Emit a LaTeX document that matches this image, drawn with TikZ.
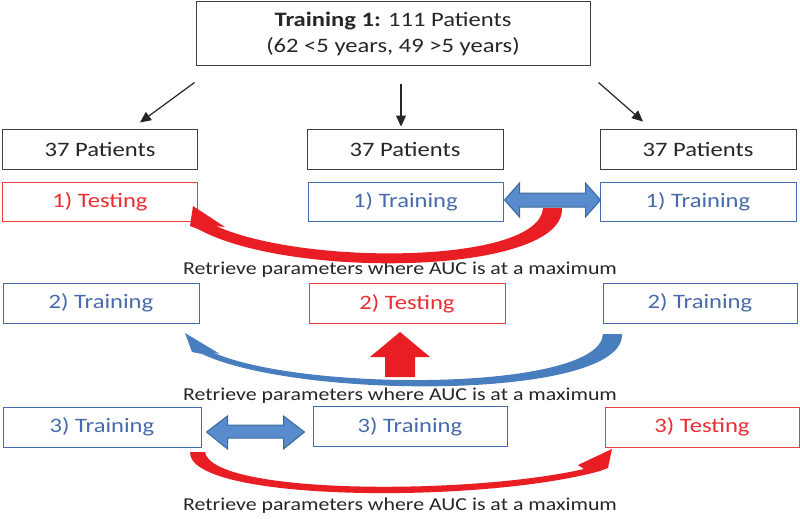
\documentclass[tikz,border=0pt]{standalone}
\usepackage{fontspec}
\setmainfont{Carlito}[FakeStretch=1.2]
\usetikzlibrary{arrows.meta,calc}
\definecolor{boxgray}{RGB}{64,64,64}
\definecolor{txtgray}{RGB}{38,38,38}
\definecolor{bblue}{RGB}{68,108,176}
\definecolor{tblue}{RGB}{70,106,170}
\definecolor{bred}{RGB}{236,60,66}
\definecolor{tred}{RGB}{234,45,50}
\definecolor{afill}{RGB}{88,140,204}
\definecolor{aedge}{RGB}{60,105,155}
\definecolor{cred}{RGB}{232,30,36}
\definecolor{cblue}{RGB}{72,125,190}
\begin{document}
\begin{tikzpicture}[x=1pt,y=-1pt,
 box/.style={draw, line width=1pt, minimum width=195pt, minimum height=40pt, inner sep=0pt, font=\fontsize{20.5}{24}\selectfont},
 graybox/.style={box, draw=boxgray, text=txtgray},
 bluebox/.style={box, draw=bblue, text=tblue},
 redbox/.style={box, draw=bred, text=tred},
 note/.style={inner sep=0pt, text=txtgray, font=\fontsize{18.2}{22}\selectfont},
 thinarrow/.style={draw=txtgray, line width=1.2pt, -{Triangle[length=11pt,width=10pt]}},
 dblarrow/.style={fill=afill, draw=aedge, line width=1pt, line join=miter},
]
\useasboundingbox (0,0) rectangle (800,519);

% boxes
\node[graybox, minimum width=394pt, minimum height=64pt, align=center,
      font=\fontsize{20.5}{26}\selectfont] (top) at (393,34)
      {\textbf{Training 1:} 111 Patients\\(62 <5 years, 49 >5 years)};
\node[graybox] (p1) at (100,149) {37 Patients};
\node[graybox, minimum width=196pt] (p2) at (405,149) {37 Patients};
\node[graybox, minimum width=196pt] (p3) at (698,149) {37 Patients};

\node[redbox, minimum height=39pt] (a1) at (100,201.5) {1) Testing};
\node[bluebox, minimum height=39pt] (b1) at (405.5,201.5) {1) Training};
\node[bluebox, minimum height=39pt, minimum width=196pt] (c1) at (698,201.5) {1) Training};

\node[bluebox, minimum width=196pt] (a2) at (101,303) {2) Training};
\node[redbox, minimum width=196pt] (b2) at (407,303.5) {2) Testing};
\node[bluebox, minimum width=194pt] (c2) at (700,303) {2) Training};

\node[bluebox, minimum width=198pt] (a3) at (102,427) {3) Training};
\node[bluebox, minimum width=194pt] (b3) at (410,426.5) {3) Training};
\node[redbox, minimum width=194pt] (c3) at (702,427) {3) Testing};

\node[note] (n1) at (400,270) {Retrieve parameters where AUC is at a maximum};
\node[note] (n2) at (400,396) {Retrieve parameters where AUC is at a maximum};
\node[note] (n3) at (400,506) {Retrieve parameters where AUC is at a maximum};

% thin arrows
\draw[thinarrow] ($(top.south west)+(-1,16)$) -- ($(p1.north)+(40,-6)$);
\draw[thinarrow] ($(top.south)+(8,17)$) -- ($(p2.north)+(-4,-2)$);
\draw[thinarrow] ($(top.south east)+(8,16)$) -- ($(p3.north)+(-55,-7)$);

% curved arrow row 1 (red)
\fill[cred] (543,208) .. controls (540,264) and (305,266) .. (216,226)
  -- (225,227) -- (193,206) -- (190,226) -- (198,229)
  .. controls (290,280) and (565,275) .. (562,208) -- cycle;

% curved arrow row 2 (blue)
\fill[cblue] (603,334) .. controls (600,392) and (300,392) .. (212,352)
  -- (220,354) -- (185,333) -- (192,352) -- (202,354)
  .. controls (300,400) and (625,400) .. (622,334) -- cycle;

% curved arrow row 3 (red)
\fill[cred] (205,452) .. controls (212,495) and (470,495) .. (584,469)
  -- (578,465) -- (612,449) -- (608,468) -- (600,471)
  .. controls (480,504) and (188,502) .. (190,452) -- cycle;

% double arrow row 1
\begin{scope}[shift={(b1.east)}]
\draw[dblarrow] (1,-1.5) -- (16,-18.5) -- (16,-8.5) -- (82,-8.5) -- (82,-18.5)
  -- (97,-1.5) -- (82,15.5) -- (82,5.5) -- (16,5.5) -- (16,15.5) -- cycle;
\end{scope}

% double arrow row 3
\begin{scope}[shift={(a3.east)}]
\draw[dblarrow] (5,5) -- (26,-11) -- (26,-2) -- (82,-2) -- (82,-11)
  -- (103,5) -- (82,22) -- (82,11) -- (26,11) -- (26,22) -- cycle;
\end{scope}

% red up arrow
\begin{scope}[shift={(b2.south)}]
\fill[cred] (-7,8) -- (23,33) -- (8,33) -- (8,53) -- (-22,53) -- (-22,33) -- (-37,33) -- cycle;
\end{scope}
\end{tikzpicture}
\end{document}
